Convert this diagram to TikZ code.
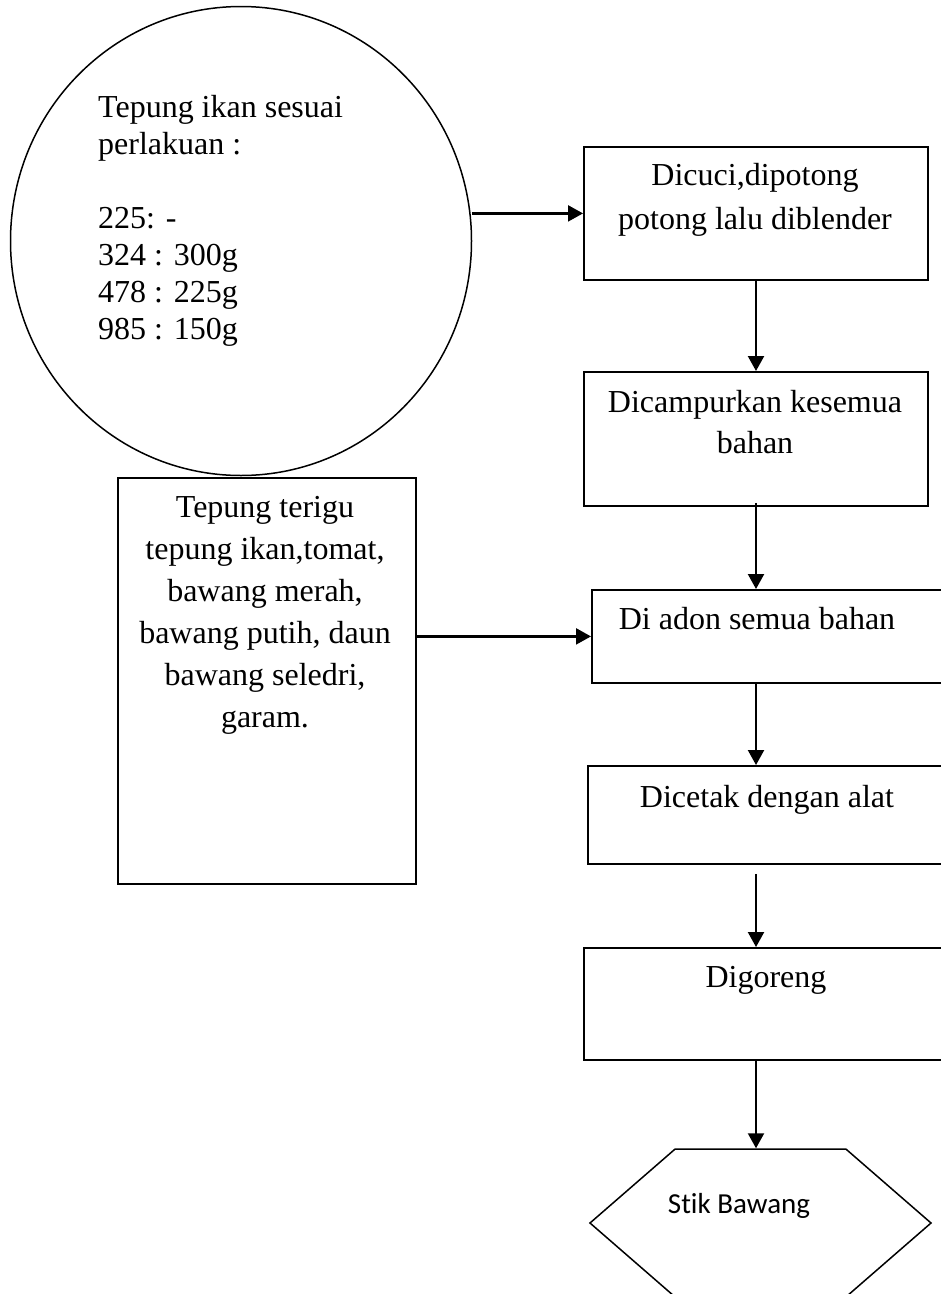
\documentclass[tikz,border=0pt]{standalone}
\usepackage{fontspec}
\setmainfont{Liberation Serif}
\newfontfamily\calibri[Ligatures=NoCommon]{Carlito}
\usetikzlibrary{shapes.geometric,shapes.symbols,arrows.meta,positioning,calc}

\tikzset{
	blok/.style={draw, line width=1.8pt, anchor=north west, inner sep=0pt},
	teks/.style={font=\fontsize{32}{42}\selectfont, align=center, inner sep=0pt, anchor=north},
	panah/.style={line width=2.2pt, -{Triangle[length=15pt,width=16pt]}},
}

\begin{document}
\begin{tikzpicture}[x=1pt,y=-1pt]
		%\draw (0,0) grid[step=100] (941,1294);
		\useasboundingbox (0,0) rectangle (941,1294);
		\node[ellipse, draw, line width=1.5pt, minimum width=461pt, minimum height=469pt, inner sep=0pt] (ikan) at (241,241) {};
		\node[teks, anchor=north west, align=left, font=\fontsize{32}{37}\selectfont] (tikan) at (98,95) {Tepung ikan sesuai\\perlakuan :\\[37pt]225: -\\324 : 300g\\478 : 225g\\985 : 150g};
		\node[blok, minimum width=344pt, minimum height=133pt] (cuci) at (583,146) {};
		\node[blok, minimum width=344pt, minimum height=134pt] (campur) at (583,371) {};
		\node[blok, minimum width=354pt, minimum height=93pt] (adon) at (591,589) {};
		\node[blok, minimum width=358pt, minimum height=98pt] (cetak) at (587,765) {};
		\node[blok, minimum width=362pt, minimum height=112pt] (goreng) at (583,947) {};
		\node[blok, minimum width=298pt, minimum height=406pt] (bahan) at (117,477) {};
		\node[signal, signal to=west and east, signal pointer angle=82, draw, line width=1.5pt, minimum width=341pt, minimum height=148pt, inner sep=0pt] (stik) at (760.5,1223) {};
		\node[teks, font=\fontsize{32}{44}\selectfont] (tcuci) at (755,163) {Dicuci,dipotong\\potong lalu diblender};
		\node[teks, font=\fontsize{32}{41}\selectfont] (tcampur) at (755,390) {Dicampurkan kesemua\\bahan};
		\node[teks] (tadon) at (757,607) {Di adon semua bahan};
		\node[teks] (tcetak) at (767,785) {Dicetak dengan alat};
		\node[teks] (tgoreng) at (766,966) {Digoreng};
		\node[teks] (tbahan) at (265,496) {Tepung terigu\\tepung ikan,tomat,\\bawang merah,\\bawang putih, daun\\bawang seledri,\\garam.};
		\node[teks, font=\calibri\fontsize{29}{35}\selectfont] (tstik) at (739,1193) {Stik Bawang};
		\coordinate (sumbu) at (756,0);
		\draw[panah] (cuci.west -| ikan.east) -- (cuci.west);
		\draw[panah] (bahan.east |- adon.west) -- (adon.west);
		\draw[panah] (cuci.south -| sumbu) -- (campur.north -| sumbu);
		\draw[panah] (campur.south -| sumbu) ++(0,-4) -- (adon.north -| sumbu);
		\draw[panah] (adon.south -| sumbu) -- (cetak.north -| sumbu);
		\draw[panah] (cetak.south -| sumbu) ++(0,9) -- (goreng.north -| sumbu);
		\draw[panah] (goreng.south -| sumbu) -- (stik.north -| sumbu);
	\end{tikzpicture}
\end{document}
